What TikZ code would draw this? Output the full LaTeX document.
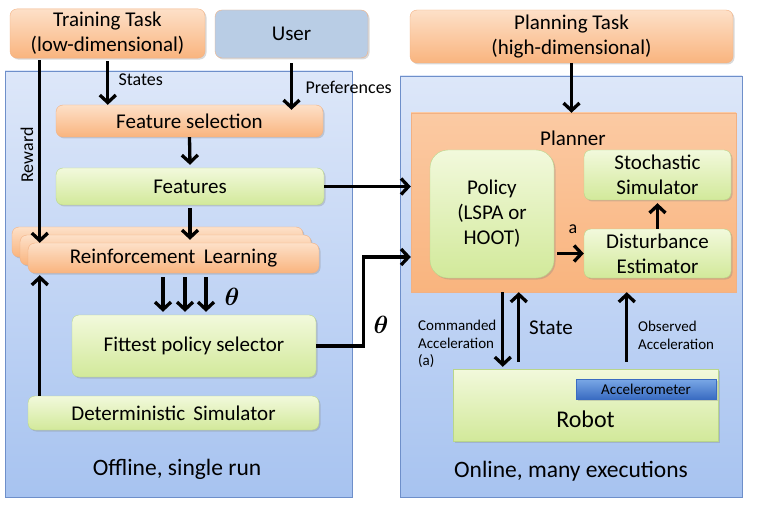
\documentclass[tikz,border=0pt]{standalone}
\usepackage{fontspec}
\setmainfont{Carlito}
\usepackage{amsmath}
\usetikzlibrary{arrows.meta,shadows,positioning,calc}

\definecolor{ortop}{HTML}{FDE0C8}
\definecolor{orbot}{HTML}{F9B47E}
\definecolor{orline}{HTML}{F2B183}
\definecolor{grtop}{HTML}{F2F9DC}
\definecolor{grbot}{HTML}{D2E99A}
\definecolor{grline}{HTML}{B9D68A}
\definecolor{pntop}{HTML}{DDE7F9}
\definecolor{pnbot}{HTML}{A7C3F0}
\definecolor{pnline}{HTML}{6E8FCA}
\definecolor{userfill}{HTML}{B9CDE5}
\definecolor{actop}{HTML}{7AA8E6}
\definecolor{acbot}{HTML}{3A6CC2}

\tikzset{
  panel/.style={draw=pnline, top color=pntop, bottom color=pnbot, line width=.8pt},
  obox/.style={draw=orline, top color=ortop, bottom color=orbot, rounded corners=7pt,
    drop shadow={shadow xshift=1.5pt, shadow yshift=-1.5pt, opacity=.3}},
  gbox/.style={draw=grline, top color=grtop, bottom color=grbot, rounded corners=7pt,
    drop shadow={shadow xshift=1.5pt, shadow yshift=-1.5pt, opacity=.3}},
  arr/.style={line width=3.3pt, -{Straight Barb[length=7.5pt,width=16pt]}},
  small/.style={font=\fontsize{15}{17.5}\selectfont},
  mid/.style={font=\fontsize{18}{21}\selectfont},
  big/.style={font=\fontsize{24}{28}\selectfont},
  caption/.style={font=\fontsize{23.5}{28}\selectfont},
}

\begin{document}
\begin{tikzpicture}[x=1pt, y=-1pt, font=\fontsize{21}{25}\selectfont]
    \useasboundingbox (0,0) rectangle (761,508);

    % the two panels
    \node[panel, minimum width=347pt, minimum height=426pt] (offline) at (178.5,284) {};
    \node[panel, minimum width=342pt, minimum height=421pt] (online) at (571,286.5) {};
    \node[caption] (offlbl) at (177,469) {Offline, single run};
    \node[caption] (onlbl) at (571,471) {Online, many executions};

    % tasks and user
    \node[obox, minimum width=195pt, minimum height=47pt, align=center] (train) at (107.5,33.5)
      {Training Task\\(low-dimensional)};
    \node[obox, top color=userfill, bottom color=userfill,
      minimum width=153pt, minimum height=48pt] (user) at (291.5,34) {User};
    \node[obox, minimum width=323pt, minimum height=53pt, align=center] (plan) at (571.5,36.5)
      {Planning Task\\(high-dimensional)};

    % offline side
    \node[obox, minimum width=267pt, minimum height=32pt] (fsel) at (189.5,121) {Feature selection};
    \node[gbox, minimum width=268pt, minimum height=37pt] (feat) at (190,186.5) {Features};
    \foreach \d in {16,8}
      \node[obox, minimum width=291pt, minimum height=30pt] at (173.5-\d,258-\d) {};
    \node[obox, minimum width=291pt, minimum height=30pt] (rl) at (173.5,258) {Reinforcement\, Learning};
    \node[gbox, minimum width=244pt, minimum height=62pt] (fit) at (194,346) {Fittest policy selector};
    \node[gbox, minimum width=291pt, minimum height=34pt] (det) at (173.5,413) {Deterministic\, Simulator};

    % online side
    \node[draw=orline, top color=ortop!50!orbot, bottom color=orbot,
      minimum width=325pt, minimum height=179pt] (planner) at (573.5,202.5) {};
    \node (plannerlbl) at (573,138) {Planner};
    \node[gbox, rounded corners=18pt, minimum width=124pt, minimum height=128pt, align=center] (policy)
      at (492,214) {Policy\\(LSPA or\\HOOT)};
    \node[gbox, minimum width=147pt, minimum height=50pt, align=center] (stoch) at (657.5,175)
      {Stochastic\\Simulator};
    \node[gbox, minimum width=147pt, minimum height=49pt, align=center] (dist) at (657.5,253.5)
      {Disturbance\\Estimator};
    \node[gbox, rounded corners=0pt, minimum width=265pt, minimum height=72pt] (robot) at (585.5,405) {};
    \node[big] (robotlbl) at ($(robot.center)+(0,14)$) {Robot};
    \node[draw=acbot, top color=actop, bottom color=acbot, minimum width=140pt, minimum height=20pt,
      small, inner sep=1pt, drop shadow={shadow xshift=1.5pt, shadow yshift=-1.5pt, opacity=.3}] (accel)
      at (646,389) {Accelerometer};

    % connectors, offline
    \draw[arr, shorten <=3pt] ($(train.south -| fsel.west)+(52,0)$) -- ($(fsel.north west)+(52,0)$);
    \node[mid, anchor=west] (stateslbl) at (115,80) {States};
    \draw[arr, shorten <=2pt] ($(train.south -| rl.west)+(12,0)$) -- ($(rl.north west)+(12,0)$);
    \node[mid, rotate=90] (rewardlbl) at (27,155) {Reward};
    \draw[arr, shorten <=5pt, shorten >=-5pt] (user.south) -- (user.south |- fsel.north);
    \node[mid, anchor=west] (preflbl) at (302,87) {Preferences};
    \draw[arr] (fsel.south) -- ($(feat.north)+(0,-3)$);
    \draw[arr, shorten <=3pt] (feat.south) -- ($(feat.south |- rl.north)+(0,-3)$);
    \draw[arr] (feat.east) -- (feat.east -| planner.west);
    \foreach \dx in {-31,-9,12} {
      \draw[arr] ($(fit.north |- rl.south)+(\dx,4)$) -- ($(fit.north)+(\dx,-3)$);
    }
    \node[big] (thetaa) at (232,297) {$\boldsymbol{\theta}$};
    \draw[arr] (fit.east) -- ++(47,0) |- ($(planner.west)+(0,54.5)$);
    \node[big] (thetab) at (381,325) {$\boldsymbol{\theta}$};
    \draw[arr] ($(det.north west)+(12,0)$) -- ($(rl.south west)+(12,2)$);

    % connectors, online
    \draw[arr] (plan.south) -- (plan.south |- planner.north);
    \draw[arr, shorten <=3pt] (policy.east |- dist.west) -- (dist.west);
    \node[mid] (albl) at (573,229) {a};
    \draw[arr] (dist.north) -- ($(stoch.south)+(0,3)$);
    \draw[arr] ($(planner.south -| robot.west)+(50,0)$) -- ($(robot.north west)+(50,-2)$);
    \node[small, anchor=north west, align=left, inner sep=0pt] (cmdlbl) at (418,320)
      {Commanded\\Acceleration\\(a)};
    \draw[arr] ($(robot.north west)+(66,-7)$) -- ($(planner.south -| robot.west)+(66,0)$);
    \node (statelbl) at (551,328) {State};
    \draw[arr] ($(robot.north west)+(174,-7)$) -- ($(planner.south -| robot.west)+(174,0)$);
    \node[small, anchor=north west, align=left, inner sep=0pt] (obslbl) at (638,321)
      {Observed\\Acceleration};
\end{tikzpicture}
\end{document}
